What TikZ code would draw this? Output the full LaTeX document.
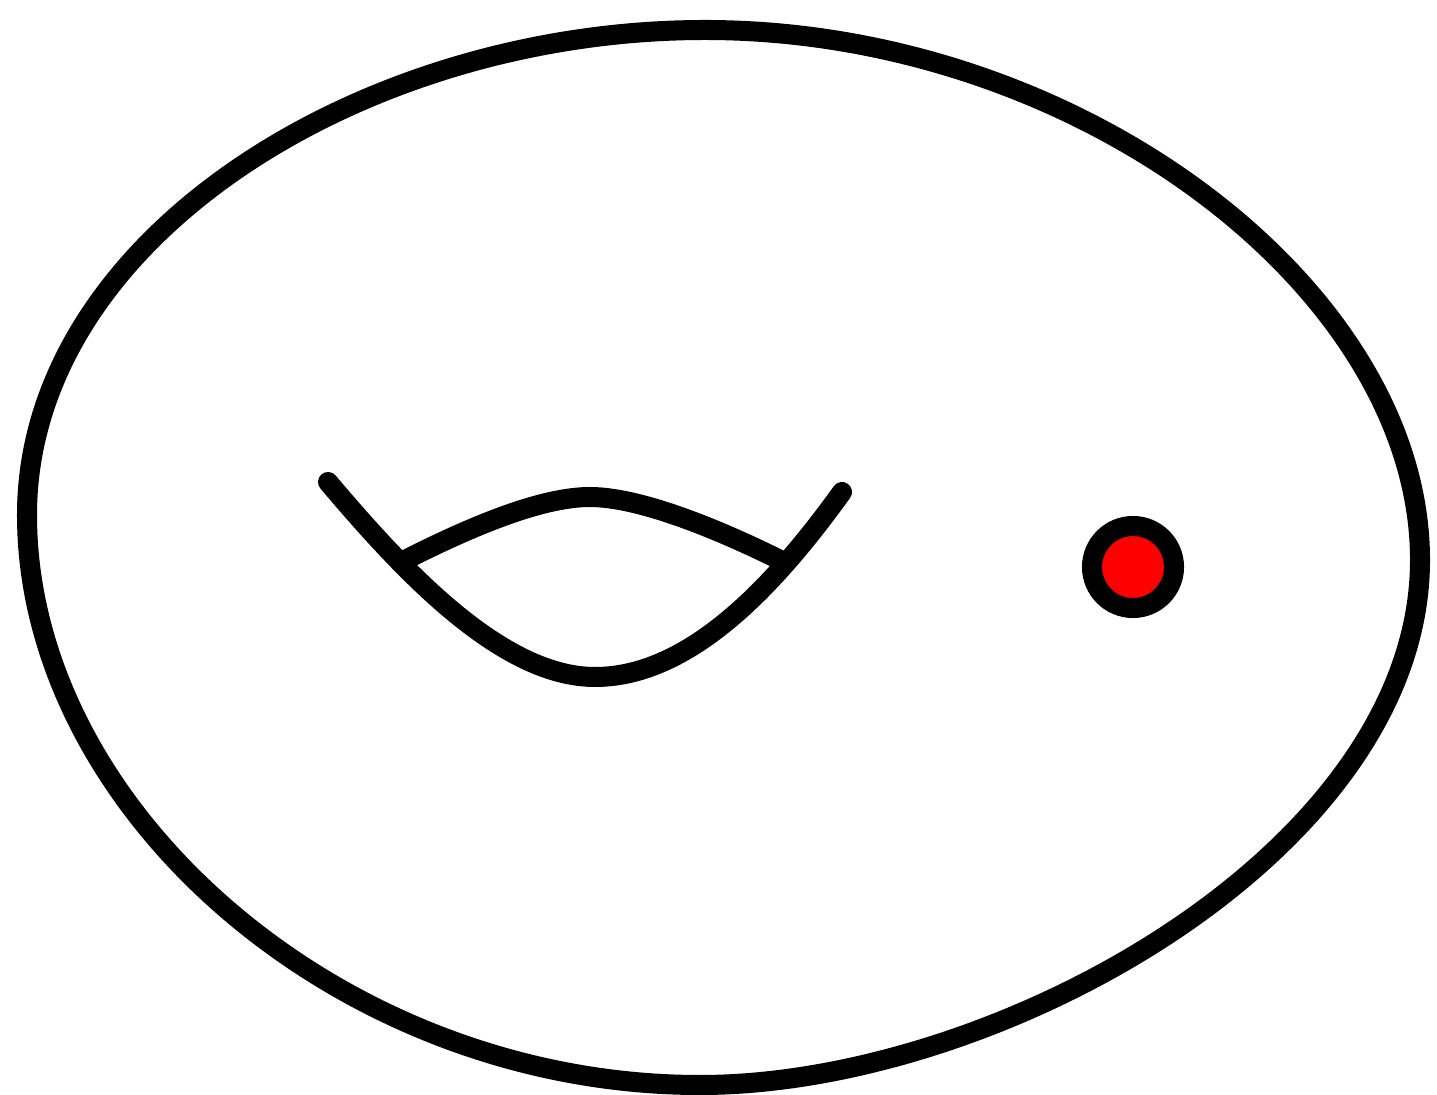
\documentclass[tikz,border=0pt]{standalone}
\usepackage{tikz}
\tikzset{
	curve/.style={draw=black, line width=0.2cm, line cap=round, line join=round},
	puncture/.style={circle, draw=black, fill=red, line width=0.2cm, minimum size=0.82cm, inner sep=0pt},
}

\begin{document}
\begin{tikzpicture}[x=0.01cm, y=-0.01cm]
	\useasboundingbox (0,0) rectangle (1437,1095);
	% outer surface
	\draw[curve] (27,515) .. controls (27,240) and (360,30) .. (705,30)
		.. controls (1080,30) and (1420,290) .. (1420,560)
		.. controls (1420,850) and (1000,1085) .. (700,1085)
		.. controls (340,1085) and (27,810) .. (27,515) -- cycle;
	% the hole
	\draw[curve] (328,482) .. controls (400,567) and (500,677) .. (595,677)
		.. controls (690,677) and (775,585) .. (842,492);
	\draw[curve] (405,560) .. controls (480,522) and (545,497) .. (590,497)
		.. controls (640,497) and (720,530) .. (780,560);
	% marked point
	\node[puncture] (pt) at (1133,567) {};
\end{tikzpicture}
\end{document}
